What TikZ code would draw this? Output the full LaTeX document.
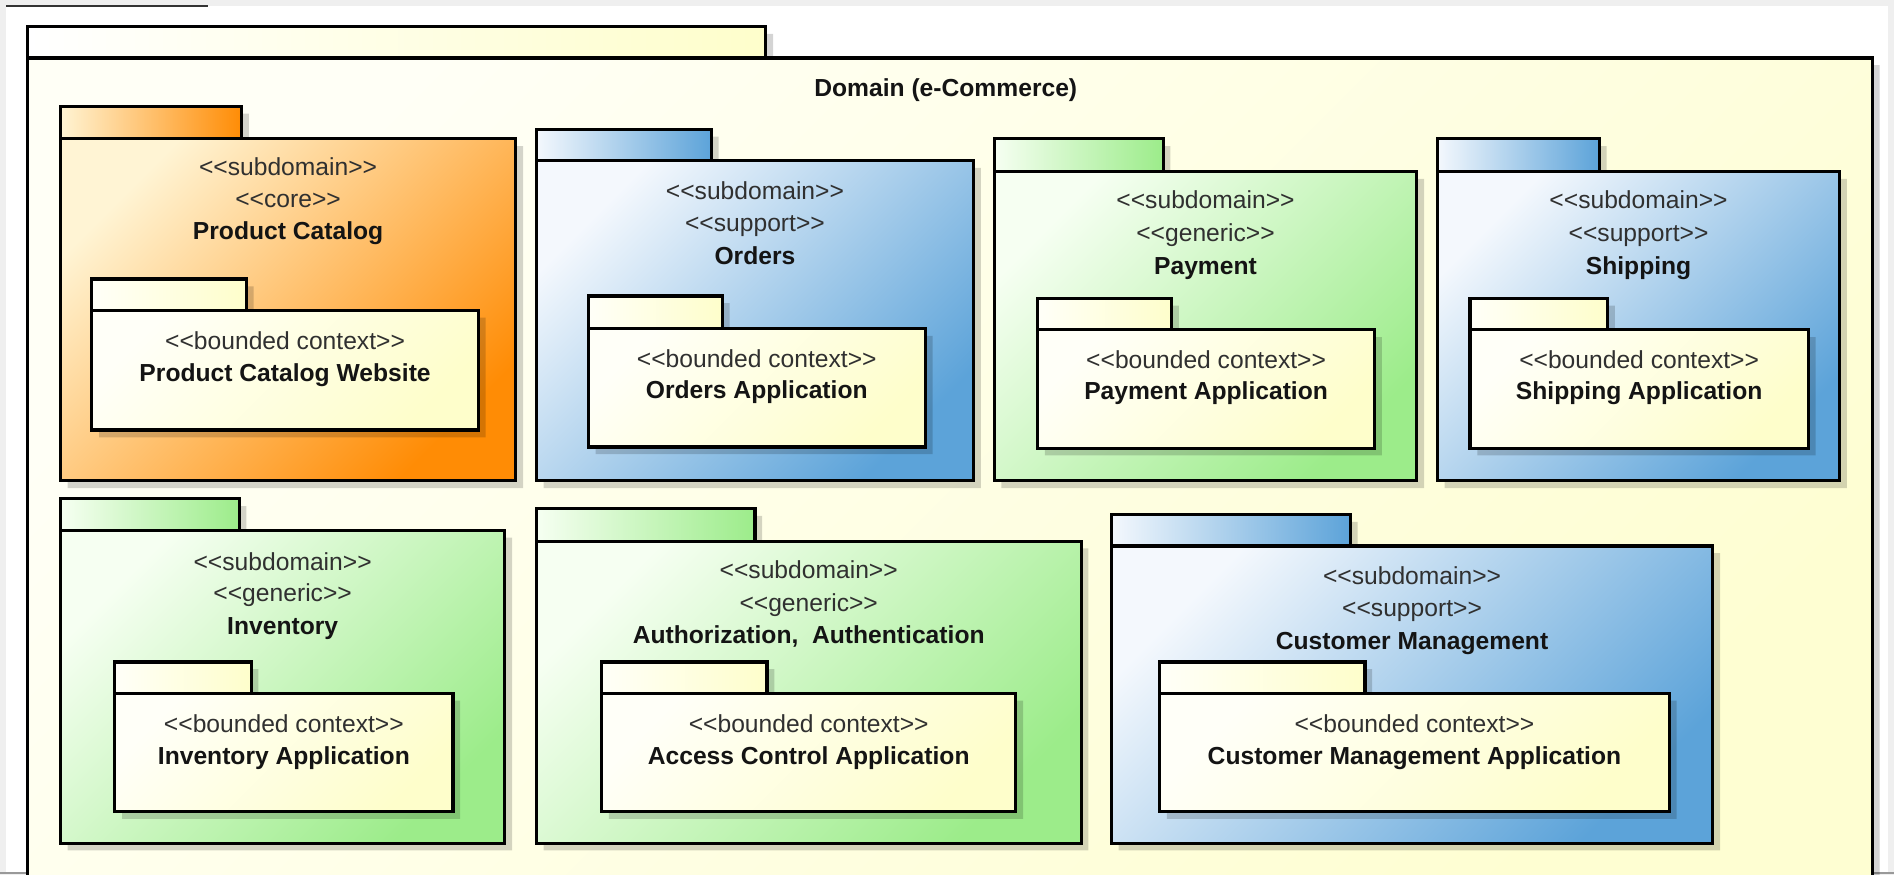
\documentclass[tikz,border=0pt]{standalone}
\usepackage{fontspec}
\newfontfamily\umlfont{Liberation Sans}
\definecolor{orpale}{HTML}{FFF4D4}
\definecolor{ordark}{HTML}{FF8C05}
\definecolor{blpale}{HTML}{F4F8FD}
\definecolor{bldark}{HTML}{5CA3D9}
\definecolor{grpale}{HTML}{F6FFF2}
\definecolor{grdark}{HTML}{9CEC8A}
\definecolor{yepale}{HTML}{FFFFF8}
\definecolor{yedark}{HTML}{FEFECB}
\definecolor{dompale}{HTML}{FFFFF6}
\definecolor{domdark}{HTML}{FEFED2}
\definecolor{stereogray}{HTML}{303030}
\definecolor{namegray}{HTML}{141414}
\definecolor{screengray}{HTML}{EFEFEF}
\tikzset{
  pkgline/.style={draw=black, line width=2.6pt, line join=miter},
  shadowfill/.style={fill=black, fill opacity=0.17},
  orbody/.style={top color=orpale, bottom color=ordark, shading angle=45},
  ortab/.style={left color=orpale, right color=ordark},
  blbody/.style={top color=blpale, bottom color=bldark, shading angle=45},
  bltab/.style={left color=blpale, right color=bldark},
  grbody/.style={top color=grpale, bottom color=grdark, shading angle=45},
  grtab/.style={left color=grpale, right color=grdark},
  yebody/.style={top color=yepale, bottom color=yedark, shading angle=45},
  yetab/.style={left color=yepale, right color=yedark},
  dombody/.style={top color=dompale, bottom color=domdark, shading angle=45},
  domtab/.style={left color=white, right color=yedark},
  stereo/.style={anchor=base, inner sep=0pt, text=stereogray,
    font=\umlfont\fontsize{20.4}{24}\selectfont},
  pname/.style={anchor=base, inner sep=0pt, text=namegray,
    font=\umlfont\bfseries\fontsize{20.4}{24}\selectfont},
}
% #1 body style, #2 tab style, #3 left x, #4 tab top, #5 tab right, #6 body top, #7 body right, #8 body bottom
\newcommand{\umlpkg}[8]{%
  \fill[shadowfill] (#3+6,#4+6) -- (#5+6,#4+6) -- (#5+6,#6+6) -- (#7+6,#6+6)
    -- (#7+6,#8+6) -- (#3+6,#8+6) -- cycle;
  \path[#2, pkgline] (#3,#4) rectangle (#5,#6);
  \path[#1, pkgline] (#3,#6) rectangle (#7,#8);
}
\begin{document}
\begin{tikzpicture}[x=1pt, y=-1pt]
\useasboundingbox (0,0) rectangle (1568,724);
\clip (0,0) rectangle (1568,724);
% screen background
\fill[screengray] (0,0) rectangle (1568,724);
\fill[white] (5,5) rectangle (1563,722);
\draw[black!80, line width=1.5pt] (5,5) -- (172,5);
\draw[gray!80, line width=1.5pt] (0,723) -- (1568,723);

% Domain package
\umlpkg{dombody}{domtab}{23}{22}{634}{48}{1550}{760}
\node[pname] (dom) at (783,80) {Domain (e-Commerce)};

% Product Catalog
\umlpkg{orbody}{ortab}{50}{88}{200}{115}{427}{398}
\node[stereo] (pc1) at (238.5,145) {<<subdomain>>};
\node[stereo] (pc2) at (238.5,172) {<<core>>};
\node[pname]  (pc3) at (238.5,198) {Product Catalog};
\umlpkg{yebody}{yetab}{76}{231}{204}{257}{396}{356}
\node[stereo] (pcb1) at (236,289) {<<bounded context>>};
\node[pname]  (pcb2) at (236,316) {Product Catalog Website};

% Orders
\umlpkg{blbody}{bltab}{444}{107}{589}{133}{806}{398}
\node[stereo] (or1) at (625,165) {<<subdomain>>};
\node[stereo] (or2) at (625,192) {<<support>>};
\node[pname]  (or3) at (625,219) {Orders};
\umlpkg{yebody}{yetab}{487}{245}{598}{272}{766}{370}
\node[stereo] (orb1) at (626.5,304) {<<bounded context>>};
\node[pname]  (orb2) at (626.5,330) {Orders Application};

% Payment
\umlpkg{grbody}{grtab}{823}{115}{963}{142}{1173}{398}
\node[stereo] (pa1) at (998,173) {<<subdomain>>};
\node[stereo] (pa2) at (998,200) {<<generic>>};
\node[pname]  (pa3) at (998,227) {Payment};
\umlpkg{yebody}{yetab}{859}{247}{970}{273}{1138}{371}
\node[stereo] (pab1) at (998.5,305) {<<bounded context>>};
\node[pname]  (pab2) at (998.5,331) {Payment Application};

% Shipping
\umlpkg{blbody}{bltab}{1190}{115}{1324}{142}{1523}{398}
\node[stereo] (sh1) at (1356.5,173) {<<subdomain>>};
\node[stereo] (sh2) at (1356.5,200) {<<support>>};
\node[pname]  (sh3) at (1356.5,227) {Shipping};
\umlpkg{yebody}{yetab}{1217}{247}{1331}{273}{1497}{371}
\node[stereo] (shb1) at (1357,305) {<<bounded context>>};
\node[pname]  (shb2) at (1357,331) {Shipping Application};

% Inventory
\umlpkg{grbody}{grtab}{50}{413}{198}{439}{418}{698}
\node[stereo] (in1) at (234,472) {<<subdomain>>};
\node[stereo] (in2) at (234,498) {<<generic>>};
\node[pname]  (in3) at (234,525) {Inventory};
\umlpkg{yebody}{yetab}{95}{548}{208}{574}{375}{672}
\node[stereo] (inb1) at (235,606) {<<bounded context>>};
\node[pname]  (inb2) at (235,633) {Inventory Application};

% Authorization, Authentication
\umlpkg{grbody}{grtab}{444}{421}{625}{448}{895}{698}
\node[stereo] (au1) at (669.5,479) {<<subdomain>>};
\node[stereo] (au2) at (669.5,506) {<<generic>>};
\node[pname]  (au3) at (669.5,533) {Authorization,\ \ Authentication};
\umlpkg{yebody}{yetab}{498}{548}{635}{574}{841}{672}
\node[stereo] (aub1) at (669.5,606) {<<bounded context>>};
\node[pname]  (aub2) at (669.5,633) {Access Control Application};

% Customer Management
\umlpkg{blbody}{bltab}{920}{426}{1118}{452}{1418}{698}
\node[stereo] (cm1) at (1169,484) {<<subdomain>>};
\node[stereo] (cm2) at (1169,510) {<<support>>};
\node[pname]  (cm3) at (1169,538) {Customer Management};
\umlpkg{yebody}{yetab}{960}{548}{1130}{574}{1382}{672}
\node[stereo] (cmb1) at (1171,606) {<<bounded context>>};
\node[pname]  (cmb2) at (1171,633) {Customer Management Application};
\end{tikzpicture}
\end{document}
